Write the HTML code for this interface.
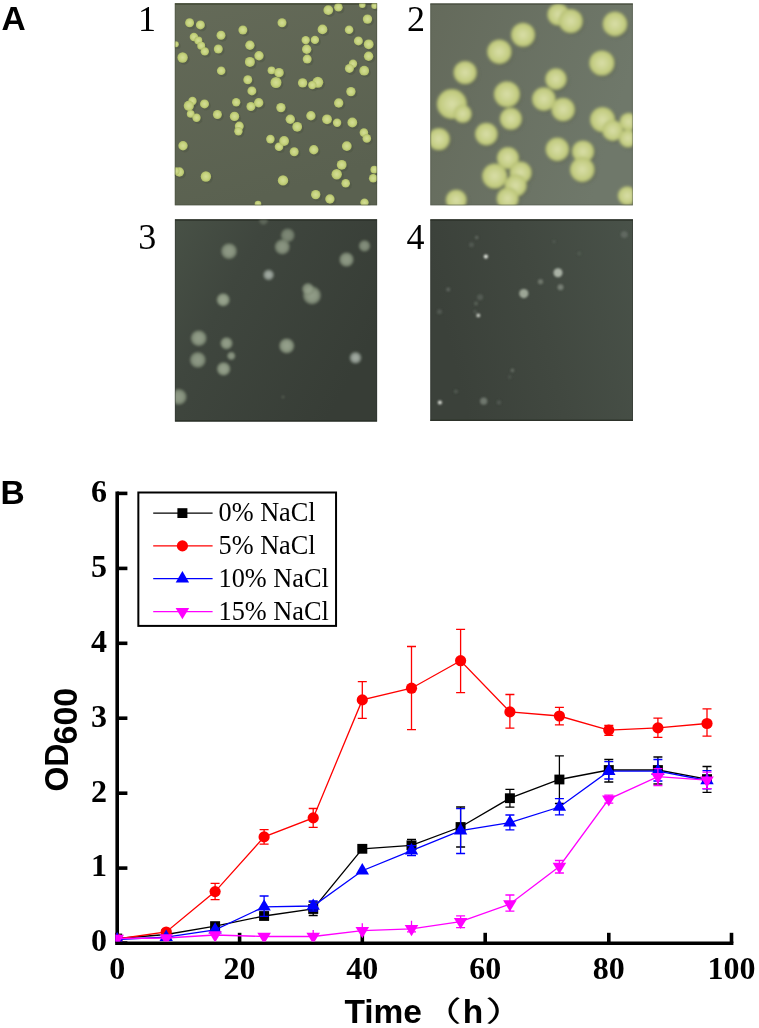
<!DOCTYPE html>
<html lang="en"><head><meta charset="utf-8"><title>Figure</title>
<style>html,body{margin:0;padding:0;background:#fff}svg{display:block}</style></head>
<body>
<svg width="759" height="1028" viewBox="0 0 759 1028">
<rect width="759" height="1028" fill="#fff"/>
<defs>
<linearGradient id="bg1" x1="0" y1="0" x2="0.3" y2="1"><stop offset="0" stop-color="#646a58"/><stop offset="1" stop-color="#5a6150"/></linearGradient>
<linearGradient id="bg2" x1="0" y1="0" x2="1" y2="0.3"><stop offset="0" stop-color="#646a5b"/><stop offset="1" stop-color="#6f786a"/></linearGradient>
<linearGradient id="bg3" x1="0" y1="0" x2="1" y2="0.55"><stop offset="0" stop-color="#485146"/><stop offset="0.35" stop-color="#3f463e"/><stop offset="1" stop-color="#373d36"/></linearGradient><radialGradient id="g3a"><stop offset="0" stop-color="#9ba691"/><stop offset="0.55" stop-color="#909c86"/><stop offset="0.82" stop-color="#7f8b76" stop-opacity="0.8"/><stop offset="1" stop-color="#6a7560" stop-opacity="0"/></radialGradient><radialGradient id="g3b"><stop offset="0" stop-color="#a6aea6"/><stop offset="0.5" stop-color="#959e96"/><stop offset="0.8" stop-color="#808a80" stop-opacity="0.7"/><stop offset="1" stop-color="#6a7468" stop-opacity="0"/></radialGradient>
<linearGradient id="bg4" x1="0" y1="0.25" x2="1" y2="0"><stop offset="0" stop-color="#3b413a"/><stop offset="0.45" stop-color="#414840"/><stop offset="1" stop-color="#495249"/></linearGradient>
<radialGradient id="c1"><stop offset="0" stop-color="#d3dd96"/><stop offset="0.6" stop-color="#c6d37e"/><stop offset="1" stop-color="#b0be68"/></radialGradient>
<radialGradient id="c2"><stop offset="0" stop-color="#d9dea8"/><stop offset="0.5" stop-color="#cbd390"/><stop offset="0.85" stop-color="#c1ca7e"/><stop offset="1" stop-color="#adb86c"/></radialGradient>
<clipPath id="cp1"><rect x="174.8" y="3.2" width="202.3" height="202.1"/></clipPath>
<clipPath id="cp2"><rect x="430.3" y="3.4" width="202.6" height="201.9"/></clipPath>
<clipPath id="cp3"><rect x="174.9" y="219.3" width="202.2" height="202.3"/></clipPath>
<clipPath id="cp4"><rect x="430.3" y="219.3" width="202.7" height="201.7"/></clipPath>
<filter id="b1" x="-20%" y="-20%" width="140%" height="140%"><feGaussianBlur stdDeviation="0.7"/></filter>
<filter id="b2" x="-20%" y="-20%" width="140%" height="140%"><feGaussianBlur stdDeviation="1.5"/></filter>
<filter id="b3" x="-30%" y="-30%" width="160%" height="160%"><feGaussianBlur stdDeviation="1.1"/></filter>
<filter id="b4" x="-50%" y="-50%" width="200%" height="200%"><feGaussianBlur stdDeviation="0.7"/></filter>
<filter id="b5" x="-80%" y="-80%" width="260%" height="260%"><feGaussianBlur stdDeviation="0.95"/></filter>
</defs>
<rect x="174.8" y="3.2" width="202.3" height="202.1" fill="url(#bg1)"/>
<g clip-path="url(#cp1)">
<rect x="174.8" y="3.2" width="202.3" height="1.6" fill="#464c38"/>
<g filter="url(#b1)">
<circle cx="191.2" cy="24.6" r="4.7" fill="#4b5140" opacity="0.45"/>
<circle cx="202.0" cy="26.7" r="4.7" fill="#4b5140" opacity="0.45"/>
<circle cx="222.6" cy="37.0" r="4.7" fill="#4b5140" opacity="0.45"/>
<circle cx="244.5" cy="31.8" r="4.7" fill="#4b5140" opacity="0.45"/>
<circle cx="195.5" cy="38.8" r="4.4" fill="#4b5140" opacity="0.45"/>
<circle cx="199.9" cy="42.4" r="4.2" fill="#4b5140" opacity="0.45"/>
<circle cx="202.8" cy="47.5" r="4.2" fill="#4b5140" opacity="0.45"/>
<circle cx="206.4" cy="53.2" r="4.4" fill="#4b5140" opacity="0.45"/>
<circle cx="219.9" cy="50.8" r="4.7" fill="#4b5140" opacity="0.45"/>
<circle cx="177.4" cy="46.0" r="3.2" fill="#4b5140" opacity="0.45"/>
<circle cx="184.2" cy="59.3" r="5.4" fill="#4b5140" opacity="0.45"/>
<circle cx="251.5" cy="47.0" r="4.9" fill="#4b5140" opacity="0.45"/>
<circle cx="260.6" cy="57.5" r="4.9" fill="#4b5140" opacity="0.45"/>
<circle cx="251.5" cy="63.7" r="5.2" fill="#4b5140" opacity="0.45"/>
<circle cx="222.8" cy="72.5" r="4.5" fill="#4b5140" opacity="0.45"/>
<circle cx="273.1" cy="72.1" r="4.1" fill="#4b5140" opacity="0.45"/>
<circle cx="280.6" cy="74.5" r="5.0" fill="#4b5140" opacity="0.45"/>
<circle cx="277.6" cy="84.3" r="5.7" fill="#4b5140" opacity="0.45"/>
<circle cx="249.4" cy="81.5" r="4.7" fill="#4b5140" opacity="0.45"/>
<circle cx="253.5" cy="92.7" r="4.7" fill="#4b5140" opacity="0.45"/>
<circle cx="237.8" cy="104.1" r="4.4" fill="#4b5140" opacity="0.45"/>
<circle cx="206.1" cy="105.7" r="4.7" fill="#4b5140" opacity="0.45"/>
<circle cx="194.1" cy="102.8" r="4.4" fill="#4b5140" opacity="0.45"/>
<circle cx="190.4" cy="107.6" r="5.3" fill="#4b5140" opacity="0.45"/>
<circle cx="260.3" cy="104.6" r="4.9" fill="#4b5140" opacity="0.45"/>
<circle cx="252.5" cy="108.3" r="4.7" fill="#4b5140" opacity="0.45"/>
<circle cx="283.6" cy="24.6" r="4.7" fill="#4b5140" opacity="0.45"/>
<circle cx="329.9" cy="11.9" r="5.1" fill="#4b5140" opacity="0.45"/>
<circle cx="340.0" cy="9.0" r="4.5" fill="#4b5140" opacity="0.45"/>
<circle cx="363.9" cy="6.6" r="3.5" fill="#4b5140" opacity="0.45"/>
<circle cx="376.2" cy="7.6" r="3.5" fill="#4b5140" opacity="0.45"/>
<circle cx="369.1" cy="20.9" r="4.9" fill="#4b5140" opacity="0.45"/>
<circle cx="324.1" cy="31.2" r="5.1" fill="#4b5140" opacity="0.45"/>
<circle cx="350.7" cy="31.5" r="4.5" fill="#4b5140" opacity="0.45"/>
<circle cx="307.3" cy="41.9" r="4.4" fill="#4b5140" opacity="0.45"/>
<circle cx="316.5" cy="41.7" r="4.4" fill="#4b5140" opacity="0.45"/>
<circle cx="308.3" cy="51.1" r="4.9" fill="#4b5140" opacity="0.45"/>
<circle cx="308.8" cy="60.9" r="4.7" fill="#4b5140" opacity="0.45"/>
<circle cx="360.0" cy="42.7" r="4.7" fill="#4b5140" opacity="0.45"/>
<circle cx="370.3" cy="46.1" r="5.1" fill="#4b5140" opacity="0.45"/>
<circle cx="370.2" cy="58.0" r="4.9" fill="#4b5140" opacity="0.45"/>
<circle cx="354.6" cy="65.6" r="4.4" fill="#4b5140" opacity="0.45"/>
<circle cx="351.0" cy="70.2" r="4.7" fill="#4b5140" opacity="0.45"/>
<circle cx="365.8" cy="72.5" r="5.1" fill="#4b5140" opacity="0.45"/>
<circle cx="304.2" cy="84.7" r="4.9" fill="#4b5140" opacity="0.45"/>
<circle cx="319.4" cy="84.1" r="5.7" fill="#4b5140" opacity="0.45"/>
<circle cx="313.9" cy="86.9" r="4.4" fill="#4b5140" opacity="0.45"/>
<circle cx="352.5" cy="93.4" r="4.9" fill="#4b5140" opacity="0.45"/>
<circle cx="340.3" cy="104.8" r="4.9" fill="#4b5140" opacity="0.45"/>
<circle cx="282.5" cy="109.4" r="4.9" fill="#4b5140" opacity="0.45"/>
<circle cx="192.3" cy="115.6" r="4.1" fill="#4b5140" opacity="0.45"/>
<circle cx="198.1" cy="119.5" r="4.4" fill="#4b5140" opacity="0.45"/>
<circle cx="219.0" cy="116.3" r="4.7" fill="#4b5140" opacity="0.45"/>
<circle cx="236.1" cy="118.2" r="4.9" fill="#4b5140" opacity="0.45"/>
<circle cx="240.9" cy="127.9" r="4.7" fill="#4b5140" opacity="0.45"/>
<circle cx="240.0" cy="133.0" r="4.4" fill="#4b5140" opacity="0.45"/>
<circle cx="272.0" cy="140.9" r="4.5" fill="#4b5140" opacity="0.45"/>
<circle cx="280.6" cy="148.5" r="4.5" fill="#4b5140" opacity="0.45"/>
<circle cx="184.6" cy="147.6" r="4.9" fill="#4b5140" opacity="0.45"/>
<circle cx="181.0" cy="173.8" r="4.9" fill="#4b5140" opacity="0.45"/>
<circle cx="177.4" cy="172.8" r="4.0" fill="#4b5140" opacity="0.45"/>
<circle cx="207.5" cy="178.3" r="5.4" fill="#4b5140" opacity="0.45"/>
<circle cx="259.6" cy="205.9" r="3.5" fill="#4b5140" opacity="0.45"/>
<circle cx="291.9" cy="121.1" r="4.9" fill="#4b5140" opacity="0.45"/>
<circle cx="298.8" cy="128.6" r="5.1" fill="#4b5140" opacity="0.45"/>
<circle cx="312.5" cy="117.5" r="4.9" fill="#4b5140" opacity="0.45"/>
<circle cx="328.6" cy="121.1" r="5.1" fill="#4b5140" opacity="0.45"/>
<circle cx="338.7" cy="124.6" r="4.4" fill="#4b5140" opacity="0.45"/>
<circle cx="353.9" cy="124.3" r="5.1" fill="#4b5140" opacity="0.45"/>
<circle cx="365.5" cy="134.4" r="4.5" fill="#4b5140" opacity="0.45"/>
<circle cx="368.4" cy="140.2" r="4.5" fill="#4b5140" opacity="0.45"/>
<circle cx="285.7" cy="142.8" r="5.1" fill="#4b5140" opacity="0.45"/>
<circle cx="295.8" cy="153.5" r="4.7" fill="#4b5140" opacity="0.45"/>
<circle cx="315.4" cy="151.5" r="4.9" fill="#4b5140" opacity="0.45"/>
<circle cx="348.4" cy="147.9" r="5.1" fill="#4b5140" opacity="0.45"/>
<circle cx="343.3" cy="166.6" r="5.1" fill="#4b5140" opacity="0.45"/>
<circle cx="338.3" cy="176.0" r="5.4" fill="#4b5140" opacity="0.45"/>
<circle cx="347.3" cy="185.1" r="4.5" fill="#4b5140" opacity="0.45"/>
<circle cx="375.9" cy="171.4" r="4.1" fill="#4b5140" opacity="0.45"/>
<circle cx="374.8" cy="180.1" r="4.5" fill="#4b5140" opacity="0.45"/>
<circle cx="284.6" cy="182.2" r="5.4" fill="#4b5140" opacity="0.45"/>
<circle cx="317.3" cy="196.4" r="4.9" fill="#4b5140" opacity="0.45"/>
<circle cx="331.5" cy="200.8" r="4.9" fill="#4b5140" opacity="0.45"/>
<circle cx="366.1" cy="204.4" r="4.4" fill="#4b5140" opacity="0.45"/>
<circle cx="189.6" cy="22.8" r="4.5" fill="url(#c1)"/>
<circle cx="200.4" cy="24.9" r="4.5" fill="url(#c1)"/>
<circle cx="221.0" cy="35.2" r="4.5" fill="url(#c1)"/>
<circle cx="242.9" cy="30.0" r="4.5" fill="url(#c1)"/>
<circle cx="193.9" cy="37.0" r="4.2" fill="url(#c1)"/>
<circle cx="198.3" cy="40.6" r="4.0" fill="url(#c1)"/>
<circle cx="201.2" cy="45.7" r="4.0" fill="url(#c1)"/>
<circle cx="204.8" cy="51.4" r="4.2" fill="url(#c1)"/>
<circle cx="218.3" cy="49.0" r="4.5" fill="url(#c1)"/>
<circle cx="175.8" cy="44.2" r="3.0" fill="url(#c1)"/>
<circle cx="182.6" cy="57.5" r="5.2" fill="url(#c1)"/>
<circle cx="249.9" cy="45.2" r="4.7" fill="url(#c1)"/>
<circle cx="259.0" cy="55.7" r="4.7" fill="url(#c1)"/>
<circle cx="249.9" cy="61.9" r="5.0" fill="url(#c1)"/>
<circle cx="221.2" cy="70.7" r="4.3" fill="url(#c1)"/>
<circle cx="271.5" cy="70.3" r="3.9" fill="url(#c1)"/>
<circle cx="279.0" cy="72.7" r="4.8" fill="url(#c1)"/>
<circle cx="276.0" cy="82.5" r="5.5" fill="url(#c1)"/>
<circle cx="247.8" cy="79.7" r="4.5" fill="url(#c1)"/>
<circle cx="251.9" cy="90.9" r="4.5" fill="url(#c1)"/>
<circle cx="236.2" cy="102.3" r="4.2" fill="url(#c1)"/>
<circle cx="204.5" cy="103.9" r="4.5" fill="url(#c1)"/>
<circle cx="192.5" cy="101.0" r="4.2" fill="url(#c1)"/>
<circle cx="188.8" cy="105.8" r="5.1" fill="url(#c1)"/>
<circle cx="258.7" cy="102.8" r="4.7" fill="url(#c1)"/>
<circle cx="250.9" cy="106.5" r="4.5" fill="url(#c1)"/>
<circle cx="282.0" cy="22.8" r="4.5" fill="url(#c1)"/>
<circle cx="328.3" cy="10.1" r="4.9" fill="url(#c1)"/>
<circle cx="338.4" cy="7.2" r="4.3" fill="url(#c1)"/>
<circle cx="362.3" cy="4.8" r="3.3" fill="url(#c1)"/>
<circle cx="374.6" cy="5.8" r="3.3" fill="url(#c1)"/>
<circle cx="367.5" cy="19.1" r="4.7" fill="url(#c1)"/>
<circle cx="322.5" cy="29.4" r="4.9" fill="url(#c1)"/>
<circle cx="349.1" cy="29.7" r="4.3" fill="url(#c1)"/>
<circle cx="305.7" cy="40.1" r="4.2" fill="url(#c1)"/>
<circle cx="314.9" cy="39.9" r="4.2" fill="url(#c1)"/>
<circle cx="306.7" cy="49.3" r="4.7" fill="url(#c1)"/>
<circle cx="307.2" cy="59.1" r="4.5" fill="url(#c1)"/>
<circle cx="358.4" cy="40.9" r="4.5" fill="url(#c1)"/>
<circle cx="368.7" cy="44.3" r="4.9" fill="url(#c1)"/>
<circle cx="368.6" cy="56.2" r="4.7" fill="url(#c1)"/>
<circle cx="353.0" cy="63.8" r="4.2" fill="url(#c1)"/>
<circle cx="349.4" cy="68.4" r="4.5" fill="url(#c1)"/>
<circle cx="364.2" cy="70.7" r="4.9" fill="url(#c1)"/>
<circle cx="302.6" cy="82.9" r="4.7" fill="url(#c1)"/>
<circle cx="317.8" cy="82.3" r="5.5" fill="url(#c1)"/>
<circle cx="312.3" cy="85.1" r="4.2" fill="url(#c1)"/>
<circle cx="350.9" cy="91.6" r="4.7" fill="url(#c1)"/>
<circle cx="338.7" cy="103.0" r="4.7" fill="url(#c1)"/>
<circle cx="280.9" cy="107.6" r="4.7" fill="url(#c1)"/>
<circle cx="190.7" cy="113.8" r="3.9" fill="url(#c1)"/>
<circle cx="196.5" cy="117.7" r="4.2" fill="url(#c1)"/>
<circle cx="217.4" cy="114.5" r="4.5" fill="url(#c1)"/>
<circle cx="234.5" cy="116.4" r="4.7" fill="url(#c1)"/>
<circle cx="239.3" cy="126.1" r="4.5" fill="url(#c1)"/>
<circle cx="238.4" cy="131.2" r="4.2" fill="url(#c1)"/>
<circle cx="270.4" cy="139.1" r="4.3" fill="url(#c1)"/>
<circle cx="279.0" cy="146.7" r="4.3" fill="url(#c1)"/>
<circle cx="183.0" cy="145.8" r="4.7" fill="url(#c1)"/>
<circle cx="179.4" cy="172.0" r="4.7" fill="url(#c1)"/>
<circle cx="175.8" cy="171.0" r="3.8" fill="url(#c1)"/>
<circle cx="205.9" cy="176.5" r="5.2" fill="url(#c1)"/>
<circle cx="258.0" cy="204.1" r="3.3" fill="url(#c1)"/>
<circle cx="290.3" cy="119.3" r="4.7" fill="url(#c1)"/>
<circle cx="297.2" cy="126.8" r="4.9" fill="url(#c1)"/>
<circle cx="310.9" cy="115.7" r="4.7" fill="url(#c1)"/>
<circle cx="327.0" cy="119.3" r="4.9" fill="url(#c1)"/>
<circle cx="337.1" cy="122.8" r="4.2" fill="url(#c1)"/>
<circle cx="352.3" cy="122.5" r="4.9" fill="url(#c1)"/>
<circle cx="363.9" cy="132.6" r="4.3" fill="url(#c1)"/>
<circle cx="366.8" cy="138.4" r="4.3" fill="url(#c1)"/>
<circle cx="284.1" cy="141.0" r="4.9" fill="url(#c1)"/>
<circle cx="294.2" cy="151.7" r="4.5" fill="url(#c1)"/>
<circle cx="313.8" cy="149.7" r="4.7" fill="url(#c1)"/>
<circle cx="346.8" cy="146.1" r="4.9" fill="url(#c1)"/>
<circle cx="341.7" cy="164.8" r="4.9" fill="url(#c1)"/>
<circle cx="336.7" cy="174.2" r="5.2" fill="url(#c1)"/>
<circle cx="345.7" cy="183.3" r="4.3" fill="url(#c1)"/>
<circle cx="374.3" cy="169.6" r="3.9" fill="url(#c1)"/>
<circle cx="373.2" cy="178.3" r="4.3" fill="url(#c1)"/>
<circle cx="283.0" cy="180.4" r="5.2" fill="url(#c1)"/>
<circle cx="315.7" cy="194.6" r="4.7" fill="url(#c1)"/>
<circle cx="329.9" cy="199.0" r="4.7" fill="url(#c1)"/>
<circle cx="364.5" cy="202.6" r="4.2" fill="url(#c1)"/>
</g></g>
<rect x="430.3" y="3.4" width="202.6" height="201.9" fill="url(#bg2)"/>
<g clip-path="url(#cp2)">
<rect x="430.3" y="3.4" width="202.6" height="1.4" fill="#4c5242"/>
<g filter="url(#b2)">
<circle cx="524.5" cy="36.3" r="12.8" fill="#59604e" opacity="0.45"/>
<circle cx="500.8" cy="53.2" r="13.0" fill="#59604e" opacity="0.45"/>
<circle cx="466.6" cy="74.0" r="12.4" fill="#59604e" opacity="0.45"/>
<circle cx="508.4" cy="95.7" r="13.8" fill="#59604e" opacity="0.45"/>
<circle cx="453.3" cy="105.5" r="15.8" fill="#59604e" opacity="0.45"/>
<circle cx="464.2" cy="115.3" r="9.8" fill="#59604e" opacity="0.45"/>
<circle cx="559.8" cy="16.0" r="11.8" fill="#59604e" opacity="0.45"/>
<circle cx="572.2" cy="22.5" r="12.8" fill="#59604e" opacity="0.45"/>
<circle cx="616.4" cy="25.4" r="13.1" fill="#59604e" opacity="0.45"/>
<circle cx="603.3" cy="64.5" r="13.4" fill="#59604e" opacity="0.45"/>
<circle cx="557.4" cy="80.5" r="11.5" fill="#59604e" opacity="0.45"/>
<circle cx="545.3" cy="100.5" r="12.6" fill="#59604e" opacity="0.45"/>
<circle cx="564.6" cy="110.9" r="12.5" fill="#59604e" opacity="0.45"/>
<circle cx="512.3" cy="120.3" r="11.8" fill="#59604e" opacity="0.45"/>
<circle cx="487.8" cy="135.6" r="12.1" fill="#59604e" opacity="0.45"/>
<circle cx="440.3" cy="140.6" r="11.8" fill="#59604e" opacity="0.45"/>
<circle cx="509.4" cy="159.5" r="11.8" fill="#59604e" opacity="0.45"/>
<circle cx="496.1" cy="177.6" r="13.3" fill="#59604e" opacity="0.45"/>
<circle cx="522.1" cy="174.0" r="11.8" fill="#59604e" opacity="0.45"/>
<circle cx="517.1" cy="187.0" r="11.8" fill="#59604e" opacity="0.45"/>
<circle cx="509.1" cy="200.1" r="11.8" fill="#59604e" opacity="0.45"/>
<circle cx="457.7" cy="201.5" r="11.3" fill="#59604e" opacity="0.45"/>
<circle cx="604.0" cy="121.1" r="13.3" fill="#59604e" opacity="0.45"/>
<circle cx="614.2" cy="131.9" r="11.3" fill="#59604e" opacity="0.45"/>
<circle cx="630.1" cy="123.2" r="9.8" fill="#59604e" opacity="0.45"/>
<circle cx="629.4" cy="139.9" r="9.8" fill="#59604e" opacity="0.45"/>
<circle cx="558.8" cy="150.8" r="12.5" fill="#59604e" opacity="0.45"/>
<circle cx="584.5" cy="152.9" r="11.8" fill="#59604e" opacity="0.45"/>
<circle cx="583.7" cy="171.1" r="13.1" fill="#59604e" opacity="0.45"/>
<circle cx="628.7" cy="197.2" r="10.3" fill="#59604e" opacity="0.45"/>
<circle cx="523.0" cy="34.8" r="12.0" fill="url(#c2)"/>
<circle cx="499.3" cy="51.7" r="12.2" fill="url(#c2)"/>
<circle cx="465.1" cy="72.5" r="11.6" fill="url(#c2)"/>
<circle cx="506.9" cy="94.2" r="13.0" fill="url(#c2)"/>
<circle cx="451.8" cy="104.0" r="15.0" fill="url(#c2)"/>
<circle cx="462.7" cy="113.8" r="9.0" fill="url(#c2)"/>
<circle cx="558.3" cy="14.5" r="11.0" fill="url(#c2)"/>
<circle cx="570.7" cy="21.0" r="12.0" fill="url(#c2)"/>
<circle cx="614.9" cy="23.9" r="12.3" fill="url(#c2)"/>
<circle cx="601.8" cy="63.0" r="12.6" fill="url(#c2)"/>
<circle cx="555.9" cy="79.0" r="10.7" fill="url(#c2)"/>
<circle cx="543.8" cy="99.0" r="11.8" fill="url(#c2)"/>
<circle cx="563.1" cy="109.4" r="11.7" fill="url(#c2)"/>
<circle cx="510.8" cy="118.8" r="11.0" fill="url(#c2)"/>
<circle cx="486.3" cy="134.1" r="11.3" fill="url(#c2)"/>
<circle cx="438.8" cy="139.1" r="11.0" fill="url(#c2)"/>
<circle cx="507.9" cy="158.0" r="11.0" fill="url(#c2)"/>
<circle cx="494.6" cy="176.1" r="12.5" fill="url(#c2)"/>
<circle cx="520.6" cy="172.5" r="11.0" fill="url(#c2)"/>
<circle cx="515.6" cy="185.5" r="11.0" fill="url(#c2)"/>
<circle cx="507.6" cy="198.6" r="11.0" fill="url(#c2)"/>
<circle cx="456.2" cy="200.0" r="10.5" fill="url(#c2)"/>
<circle cx="602.5" cy="119.6" r="12.5" fill="url(#c2)"/>
<circle cx="612.7" cy="130.4" r="10.5" fill="url(#c2)"/>
<circle cx="628.6" cy="121.7" r="9.0" fill="url(#c2)"/>
<circle cx="627.9" cy="138.4" r="9.0" fill="url(#c2)"/>
<circle cx="557.3" cy="149.3" r="11.7" fill="url(#c2)"/>
<circle cx="583.0" cy="151.4" r="11.0" fill="url(#c2)"/>
<circle cx="582.2" cy="169.6" r="12.3" fill="url(#c2)"/>
<circle cx="627.2" cy="195.7" r="9.5" fill="url(#c2)"/>
</g></g>
<rect x="174.9" y="219.3" width="202.2" height="202.3" fill="url(#bg3)"/>
<g clip-path="url(#cp3)">
<rect x="174.9" y="219.3" width="202.2" height="1.4" fill="#2c3228"/>
<rect x="174.9" y="420.2" width="202.2" height="1.4" fill="#2c3228"/>
<g filter="url(#b3)">
<circle cx="229.0" cy="251.2" r="8.8" fill="url(#g3a)" opacity="0.88"/>
<circle cx="268.6" cy="274.9" r="6.2" fill="url(#g3b)" opacity="1.00"/>
<circle cx="223.2" cy="299.8" r="7.3" fill="url(#g3a)" opacity="1.00"/>
<circle cx="263.5" cy="220.5" r="5.0" fill="url(#g3a)" opacity="0.36"/>
<circle cx="287.7" cy="235.3" r="7.7" fill="url(#g3a)" opacity="0.70"/>
<circle cx="282.3" cy="246.9" r="8.4" fill="url(#g3a)" opacity="0.84"/>
<circle cx="364.5" cy="245.9" r="6.4" fill="url(#g3a)" opacity="0.78"/>
<circle cx="346.5" cy="259.6" r="8.0" fill="url(#g3a)" opacity="0.88"/>
<circle cx="312.0" cy="295.4" r="9.9" fill="url(#g3a)" opacity="0.92"/>
<circle cx="308.0" cy="289.0" r="6.6" fill="url(#g3a)" opacity="0.85"/>
<circle cx="198.7" cy="338.2" r="8.8" fill="url(#g3a)" opacity="0.92"/>
<circle cx="197.8" cy="359.9" r="8.8" fill="url(#g3a)" opacity="0.88"/>
<circle cx="226.5" cy="343.3" r="6.8" fill="url(#g3a)" opacity="0.93"/>
<circle cx="231.3" cy="355.9" r="4.6" fill="url(#g3a)" opacity="0.84"/>
<circle cx="223.6" cy="368.9" r="7.5" fill="url(#g3a)" opacity="0.96"/>
<circle cx="178.7" cy="396.9" r="8.8" fill="url(#g3a)" opacity="0.89"/>
<circle cx="286.7" cy="345.9" r="8.4" fill="url(#g3a)" opacity="0.96"/>
<circle cx="355.5" cy="357.8" r="6.8" fill="url(#g3b)" opacity="1.00"/>
<circle cx="283.0" cy="397.0" r="1.8" fill="url(#g3a)" opacity="0.32"/>
</g></g>
<rect x="430.3" y="219.3" width="202.7" height="201.7" fill="url(#bg4)"/>
<g clip-path="url(#cp4)">
<rect x="430.3" y="219.3" width="202.7" height="1.4" fill="#2c3228"/>
<rect x="430.3" y="419.6" width="202.7" height="1.4" fill="#2c3228"/>
<g filter="url(#b5)">
<circle cx="485.9" cy="256.6" r="2.1" fill="#e4e8e0" opacity="1.0"/>
<circle cx="523.8" cy="293.6" r="4.6" fill="#9ca696" opacity="1.0"/>
<circle cx="478.3" cy="315.4" r="1.9" fill="#ccd0c8" opacity="1.0"/>
<circle cx="476.7" cy="237.5" r="1.8" fill="#6a7268" opacity="0.75"/>
<circle cx="471.4" cy="244.7" r="2.5" fill="#586058" opacity="0.75"/>
<circle cx="448.2" cy="289.6" r="2.0" fill="#687068" opacity="0.75"/>
<circle cx="480.1" cy="297.3" r="3.0" fill="#5c645c" opacity="0.75"/>
<circle cx="476.0" cy="303.4" r="2.0" fill="#626a60" opacity="0.75"/>
<circle cx="439.5" cy="311.8" r="2.5" fill="#5a625a" opacity="0.75"/>
<circle cx="475.0" cy="311.4" r="1.5" fill="#5c645c" opacity="0.75"/>
<circle cx="558.0" cy="272.7" r="4.5" fill="#aab2a6" opacity="1.0"/>
<circle cx="540.5" cy="281.7" r="2.6" fill="#7e867a" opacity="0.75"/>
<circle cx="560.5" cy="287.2" r="3.0" fill="#889086" opacity="0.75"/>
<circle cx="624.3" cy="234.6" r="3.5" fill="#687068" opacity="0.75"/>
<circle cx="579.3" cy="253.4" r="2.0" fill="#566056" opacity="0.75"/>
<circle cx="554.0" cy="241.5" r="1.5" fill="#5a625a" opacity="0.75"/>
<circle cx="439.9" cy="402.4" r="2.0" fill="#dce0d8" opacity="1.0"/>
<circle cx="483.7" cy="401.2" r="3.6" fill="#80887e" opacity="0.75"/>
<circle cx="498.9" cy="402.4" r="2.2" fill="#586058" opacity="0.75"/>
<circle cx="455.9" cy="391.4" r="2.0" fill="#5a625a" opacity="0.75"/>
<circle cx="512.4" cy="370.4" r="1.8" fill="#727a70" opacity="0.75"/>
<circle cx="509.8" cy="377.0" r="2.0" fill="#505850" opacity="0.75"/>
</g></g>
<rect x="175.3" y="3.7" width="201.3" height="201.1" fill="none" stroke="#474d3b" stroke-width="1" opacity="0.45"/>
<rect x="430.8" y="3.9" width="201.6" height="200.9" fill="none" stroke="#50564a" stroke-width="1" opacity="0.45"/>
<rect x="175.4" y="219.8" width="201.2" height="201.3" fill="none" stroke="#2e342c" stroke-width="1" opacity="0.45"/>
<rect x="430.8" y="219.8" width="201.7" height="200.7" fill="none" stroke="#2e342d" stroke-width="1" opacity="0.45"/>
<text x="1.6" y="29.9" font-family='"Liberation Sans", Arial, sans-serif' font-weight="bold" font-size="33.5" fill="#000">A</text>
<text x="0.4" y="504" font-family='"Liberation Sans", Arial, sans-serif' font-weight="bold" font-size="33.5" fill="#000">B</text>
<text x="138.0" y="31.1" font-family='"Liberation Serif", "Times New Roman", serif' font-size="36" fill="#000">1</text>
<text x="407" y="31.1" font-family='"Liberation Serif", "Times New Roman", serif' font-size="36" fill="#000">2</text>
<text x="138.2" y="248.6" font-family='"Liberation Serif", "Times New Roman", serif' font-size="36" fill="#000">3</text>
<text x="406.6" y="248.6" font-family='"Liberation Serif", "Times New Roman", serif' font-size="36" fill="#000">4</text>
<g id="chart">
<path d="M117.2 491.6V945.0" stroke="#000" stroke-width="3.6" fill="none"/>
<path d="M115.4 943.2H733.4" stroke="#000" stroke-width="3.6" fill="none"/>
<path d="M117 943.1H127.4" stroke="#000" stroke-width="3.6"/>
<path d="M117 868.1H127.4" stroke="#000" stroke-width="3.6"/>
<path d="M117 793.2H127.4" stroke="#000" stroke-width="3.6"/>
<path d="M117 718.2H127.4" stroke="#000" stroke-width="3.6"/>
<path d="M117 643.3H127.4" stroke="#000" stroke-width="3.6"/>
<path d="M117 568.4H127.4" stroke="#000" stroke-width="3.6"/>
<path d="M117 493.4H127.4" stroke="#000" stroke-width="3.6"/>
<path d="M117.2 943V932.8" stroke="#000" stroke-width="3.6"/>
<path d="M239.6 943V932.8" stroke="#000" stroke-width="3.6"/>
<path d="M362.3 943V932.8" stroke="#000" stroke-width="3.6"/>
<path d="M485.2 943V932.8" stroke="#000" stroke-width="3.6"/>
<path d="M608.8 943V932.8" stroke="#000" stroke-width="3.6"/>
<path d="M731.5 943V932.8" stroke="#000" stroke-width="3.6"/>
<clipPath id="plot"><rect x="115.4" y="470" width="640" height="471.5"/></clipPath><g clip-path="url(#plot)">
<polyline points="117.2,938.5 166.2,934.5 215.1,926.1 264.1,916.0 313.2,909.0 362.3,848.8 411.5,845.3 460.6,827.0 509.9,798.2 559.4,779.5 608.8,770.0 657.9,770.0 707.0,779.1" fill="none" stroke="#000000" stroke-width="1.3"/>
<path d="M313.2 902.0V915.5M308.7 902.0h9M308.7 915.5h9" stroke="#000000" stroke-width="1.3" fill="none"/>
<path d="M411.5 839.3V851.3M407.0 839.3h9M407.0 851.3h9" stroke="#000000" stroke-width="1.3" fill="none"/>
<path d="M460.6 807.0V847.0M456.1 807.0h9M456.1 847.0h9" stroke="#000000" stroke-width="1.3" fill="none"/>
<path d="M509.9 789.3V807.1M505.4 789.3h9M505.4 807.1h9" stroke="#000000" stroke-width="1.3" fill="none"/>
<path d="M559.4 755.8V803.5M554.9 755.8h9M554.9 803.5h9" stroke="#000000" stroke-width="1.3" fill="none"/>
<path d="M608.8 759.5V782.0M604.3 759.5h9M604.3 782.0h9" stroke="#000000" stroke-width="1.3" fill="none"/>
<path d="M657.9 757.0V784.0M653.4 757.0h9M653.4 784.0h9" stroke="#000000" stroke-width="1.3" fill="none"/>
<path d="M707.0 766.5V792.4M702.5 766.5h9M702.5 792.4h9" stroke="#000000" stroke-width="1.3" fill="none"/>
<rect x="112.2" y="933.6" width="10" height="9.8" fill="#000000"/>
<rect x="161.2" y="929.6" width="10" height="9.8" fill="#000000"/>
<rect x="210.1" y="921.2" width="10" height="9.8" fill="#000000"/>
<rect x="259.1" y="911.1" width="10" height="9.8" fill="#000000"/>
<rect x="308.2" y="904.1" width="10" height="9.8" fill="#000000"/>
<rect x="357.3" y="843.9" width="10" height="9.8" fill="#000000"/>
<rect x="406.5" y="840.4" width="10" height="9.8" fill="#000000"/>
<rect x="455.6" y="822.1" width="10" height="9.8" fill="#000000"/>
<rect x="504.9" y="793.3" width="10" height="9.8" fill="#000000"/>
<rect x="554.4" y="774.6" width="10" height="9.8" fill="#000000"/>
<rect x="603.8" y="765.1" width="10" height="9.8" fill="#000000"/>
<rect x="652.9" y="765.1" width="10" height="9.8" fill="#000000"/>
<rect x="702.0" y="774.2" width="10" height="9.8" fill="#000000"/>
<polyline points="117.2,939.0 166.2,932.0 215.1,891.6 264.1,836.9 313.2,817.9 362.3,699.9 411.5,688.2 460.6,660.7 509.9,711.9 559.4,716.0 608.8,730.1 657.9,727.9 707.0,723.5" fill="none" stroke="#ff0000" stroke-width="1.3"/>
<path d="M215.1 883.4V899.6M210.6 883.4h9M210.6 899.6h9" stroke="#ff0000" stroke-width="1.3" fill="none"/>
<path d="M264.1 829.6V844.2M259.6 829.6h9M259.6 844.2h9" stroke="#ff0000" stroke-width="1.3" fill="none"/>
<path d="M313.2 808.5V827.4M308.7 808.5h9M308.7 827.4h9" stroke="#ff0000" stroke-width="1.3" fill="none"/>
<path d="M362.3 681.6V718.3M357.8 681.6h9M357.8 718.3h9" stroke="#ff0000" stroke-width="1.3" fill="none"/>
<path d="M411.5 646.5V729.6M407.0 646.5h9M407.0 729.6h9" stroke="#ff0000" stroke-width="1.3" fill="none"/>
<path d="M460.6 629.4V692.6M456.1 629.4h9M456.1 692.6h9" stroke="#ff0000" stroke-width="1.3" fill="none"/>
<path d="M509.9 694.5V728.1M505.4 694.5h9M505.4 728.1h9" stroke="#ff0000" stroke-width="1.3" fill="none"/>
<path d="M559.4 707.3V724.8M554.9 707.3h9M554.9 724.8h9" stroke="#ff0000" stroke-width="1.3" fill="none"/>
<path d="M608.8 725.3V735.4M604.3 725.3h9M604.3 735.4h9" stroke="#ff0000" stroke-width="1.3" fill="none"/>
<path d="M657.9 718.1V737.4M653.4 718.1h9M653.4 737.4h9" stroke="#ff0000" stroke-width="1.3" fill="none"/>
<path d="M707.0 708.9V736.1M702.5 708.9h9M702.5 736.1h9" stroke="#ff0000" stroke-width="1.3" fill="none"/>
<circle cx="117.2" cy="939.0" r="5.6" fill="#ff0000"/>
<circle cx="166.2" cy="932.0" r="5.6" fill="#ff0000"/>
<circle cx="215.1" cy="891.6" r="5.6" fill="#ff0000"/>
<circle cx="264.1" cy="836.9" r="5.6" fill="#ff0000"/>
<circle cx="313.2" cy="817.9" r="5.6" fill="#ff0000"/>
<circle cx="362.3" cy="699.9" r="5.6" fill="#ff0000"/>
<circle cx="411.5" cy="688.2" r="5.6" fill="#ff0000"/>
<circle cx="460.6" cy="660.7" r="5.6" fill="#ff0000"/>
<circle cx="509.9" cy="711.9" r="5.6" fill="#ff0000"/>
<circle cx="559.4" cy="716.0" r="5.6" fill="#ff0000"/>
<circle cx="608.8" cy="730.1" r="5.6" fill="#ff0000"/>
<circle cx="657.9" cy="727.9" r="5.6" fill="#ff0000"/>
<circle cx="707.0" cy="723.5" r="5.6" fill="#ff0000"/>
<polyline points="117.2,939.5 166.2,937.2 215.1,929.8 264.1,906.8 313.2,906.0 362.3,870.7 411.5,850.6 460.6,830.6 509.9,822.6 559.4,807.0 608.8,771.2 657.9,771.2 707.0,780.5" fill="none" stroke="#0000ff" stroke-width="1.3"/>
<path d="M264.1 896.0V916.3M259.6 896.0h9M259.6 916.3h9" stroke="#0000ff" stroke-width="1.3" fill="none"/>
<path d="M313.2 901.0V911.0M308.7 901.0h9M308.7 911.0h9" stroke="#0000ff" stroke-width="1.3" fill="none"/>
<path d="M411.5 845.6V855.6M407.0 845.6h9M407.0 855.6h9" stroke="#0000ff" stroke-width="1.3" fill="none"/>
<path d="M460.6 808.7V853.5M456.1 808.7h9M456.1 853.5h9" stroke="#0000ff" stroke-width="1.3" fill="none"/>
<path d="M509.9 815.0V829.9M505.4 815.0h9M505.4 829.9h9" stroke="#0000ff" stroke-width="1.3" fill="none"/>
<path d="M559.4 798.6V814.9M554.9 798.6h9M554.9 814.9h9" stroke="#0000ff" stroke-width="1.3" fill="none"/>
<path d="M608.8 761.7V779.0M604.3 761.7h9M604.3 779.0h9" stroke="#0000ff" stroke-width="1.3" fill="none"/>
<path d="M657.9 759.5V781.0M653.4 759.5h9M653.4 781.0h9" stroke="#0000ff" stroke-width="1.3" fill="none"/>
<path d="M707.0 770.6V788.9M702.5 770.6h9M702.5 788.9h9" stroke="#0000ff" stroke-width="1.3" fill="none"/>
<path d="M117.2 931.9L123.9 943.3H110.5Z" fill="#0000ff"/>
<path d="M166.2 929.6L172.9 941.0H159.5Z" fill="#0000ff"/>
<path d="M215.1 922.2L221.8 933.6H208.4Z" fill="#0000ff"/>
<path d="M264.1 899.2L270.8 910.6H257.4Z" fill="#0000ff"/>
<path d="M313.2 898.4L319.9 909.8H306.5Z" fill="#0000ff"/>
<path d="M362.3 863.1L369.0 874.5H355.6Z" fill="#0000ff"/>
<path d="M411.5 843.0L418.2 854.4H404.8Z" fill="#0000ff"/>
<path d="M460.6 823.0L467.3 834.4H453.9Z" fill="#0000ff"/>
<path d="M509.9 815.0L516.6 826.4H503.2Z" fill="#0000ff"/>
<path d="M559.4 799.4L566.1 810.8H552.7Z" fill="#0000ff"/>
<path d="M608.8 763.6L615.5 775.0H602.1Z" fill="#0000ff"/>
<path d="M657.9 763.6L664.6 775.0H651.2Z" fill="#0000ff"/>
<path d="M707.0 772.9L713.7 784.3H700.3Z" fill="#0000ff"/>
<path d="M313.2 930V936M362.3 923.2V930M411.5 920.8V928" stroke="#ff00ff" stroke-width="1.3"/>
<polyline points="117.2,938.5 166.2,938.0 215.1,935.0 264.1,936.5 313.2,936.5 362.3,930.7 411.5,928.8 460.6,921.6 509.9,904.0 559.4,866.5 608.8,799.1 657.9,776.6 707.0,780.1" fill="none" stroke="#ff00ff" stroke-width="1.3"/>
<path d="M411.5 925.8V931.8M407.0 925.8h9M407.0 931.8h9" stroke="#ff00ff" stroke-width="1.3" fill="none"/>
<path d="M460.6 915.9V927.7M456.1 915.9h9M456.1 927.7h9" stroke="#ff00ff" stroke-width="1.3" fill="none"/>
<path d="M509.9 895.0V911.1M505.4 895.0h9M505.4 911.1h9" stroke="#ff00ff" stroke-width="1.3" fill="none"/>
<path d="M559.4 860.5V873.0M554.9 860.5h9M554.9 873.0h9" stroke="#ff00ff" stroke-width="1.3" fill="none"/>
<path d="M608.8 795.1V803.1M604.3 795.1h9M604.3 803.1h9" stroke="#ff00ff" stroke-width="1.3" fill="none"/>
<path d="M657.9 768.6V785.5M653.4 768.6h9M653.4 785.5h9" stroke="#ff00ff" stroke-width="1.3" fill="none"/>
<path d="M707.0 772.1V788.6M702.5 772.1h9M702.5 788.6h9" stroke="#ff00ff" stroke-width="1.3" fill="none"/>
<path d="M117.2 946.0L124.0 934.8H110.4Z" fill="#ff00ff"/>
<path d="M166.2 945.5L173.0 934.3H159.4Z" fill="#ff00ff"/>
<path d="M215.1 942.5L221.9 931.3H208.3Z" fill="#ff00ff"/>
<path d="M264.1 944.0L270.9 932.8H257.3Z" fill="#ff00ff"/>
<path d="M313.2 944.0L320.0 932.8H306.4Z" fill="#ff00ff"/>
<path d="M362.3 938.2L369.1 927.0H355.5Z" fill="#ff00ff"/>
<path d="M411.5 936.3L418.3 925.1H404.7Z" fill="#ff00ff"/>
<path d="M460.6 929.1L467.4 917.9H453.8Z" fill="#ff00ff"/>
<path d="M509.9 911.5L516.7 900.3H503.1Z" fill="#ff00ff"/>
<path d="M559.4 874.0L566.2 862.8H552.6Z" fill="#ff00ff"/>
<path d="M608.8 806.6L615.6 795.4H602.0Z" fill="#ff00ff"/>
<path d="M657.9 784.1L664.7 772.9H651.1Z" fill="#ff00ff"/>
<path d="M707.0 787.6L713.8 776.4H700.2Z" fill="#ff00ff"/>
</g>
<text x="107" y="951.4" text-anchor="end" font-family='"Liberation Serif", "Times New Roman", serif' font-weight="bold" font-size="32" fill="#000">0</text>
<text x="107" y="876.4" text-anchor="end" font-family='"Liberation Serif", "Times New Roman", serif' font-weight="bold" font-size="32" fill="#000">1</text>
<text x="107" y="801.5" text-anchor="end" font-family='"Liberation Serif", "Times New Roman", serif' font-weight="bold" font-size="32" fill="#000">2</text>
<text x="107" y="726.5" text-anchor="end" font-family='"Liberation Serif", "Times New Roman", serif' font-weight="bold" font-size="32" fill="#000">3</text>
<text x="107" y="651.6" text-anchor="end" font-family='"Liberation Serif", "Times New Roman", serif' font-weight="bold" font-size="32" fill="#000">4</text>
<text x="107" y="576.6" text-anchor="end" font-family='"Liberation Serif", "Times New Roman", serif' font-weight="bold" font-size="32" fill="#000">5</text>
<text x="107" y="501.7" text-anchor="end" font-family='"Liberation Serif", "Times New Roman", serif' font-weight="bold" font-size="32" fill="#000">6</text>
<text x="117.2" y="978.9" text-anchor="middle" font-family='"Liberation Serif", "Times New Roman", serif' font-weight="bold" font-size="32" fill="#000">0</text>
<text x="239.6" y="978.9" text-anchor="middle" font-family='"Liberation Serif", "Times New Roman", serif' font-weight="bold" font-size="32" fill="#000">20</text>
<text x="362.3" y="978.9" text-anchor="middle" font-family='"Liberation Serif", "Times New Roman", serif' font-weight="bold" font-size="32" fill="#000">40</text>
<text x="485.2" y="978.9" text-anchor="middle" font-family='"Liberation Serif", "Times New Roman", serif' font-weight="bold" font-size="32" fill="#000">60</text>
<text x="608.8" y="978.9" text-anchor="middle" font-family='"Liberation Serif", "Times New Roman", serif' font-weight="bold" font-size="32" fill="#000">80</text>
<text x="731.5" y="978.9" text-anchor="middle" font-family='"Liberation Serif", "Times New Roman", serif' font-weight="bold" font-size="32" fill="#000">100</text>
<text transform="translate(67.9 791.6) rotate(-90) scale(0.957 1)" font-family='"Liberation Sans", Arial, sans-serif' font-weight="bold" font-size="33.5" fill="#000">OD</text>
<text transform="translate(77.3 744.5) rotate(-90)" font-family='"Liberation Sans", Arial, sans-serif' font-weight="bold" font-size="34" fill="#000">600</text>
<text x="344.4" y="1022.7" font-family='"Liberation Sans", Arial, sans-serif' font-weight="bold" font-size="33.5" fill="#000">Time</text>
<text transform="translate(418.6 1021.8) scale(1.6 1.04)" font-family='"Liberation Sans", "Noto Sans CJK SC", sans-serif' font-weight="400" font-size="27" fill="#000">（</text>
<text x="462.8" y="1022.7" font-family='"Liberation Sans", Arial, sans-serif' font-weight="bold" font-size="33.5" fill="#000">h</text>
<text transform="translate(485.2 1021.8) scale(1.65 1.04)" font-family='"Liberation Sans", "Noto Sans CJK SC", sans-serif' font-weight="400" font-size="27" fill="#000">）</text>
<rect x="138.35" y="492.5" width="197.7" height="133.4" fill="#fff" stroke="#000" stroke-width="2"/>
<path d="M153.2 513.1H212.6" stroke="#000000" stroke-width="1.3"/>
<rect x="177.4" y="508.2" width="10" height="9.8" fill="#000000"/>
<text x="218.5" y="521.2" font-family='"Liberation Serif", "Times New Roman", serif' font-size="26.3" fill="#000">0% NaCl</text>
<path d="M153.2 545.9H212.6" stroke="#ff0000" stroke-width="1.3"/>
<circle cx="182.4" cy="545.9" r="5.6" fill="#ff0000"/>
<text x="218.5" y="554.0" font-family='"Liberation Serif", "Times New Roman", serif' font-size="26.3" fill="#000">5% NaCl</text>
<path d="M153.2 578.6H212.6" stroke="#0000ff" stroke-width="1.3"/>
<path d="M182.4 571.0L189.1 582.4H175.7Z" fill="#0000ff"/>
<text x="218.5" y="586.7" font-family='"Liberation Serif", "Times New Roman", serif' font-size="26.3" fill="#000">10% NaCl</text>
<path d="M153.2 611.7H212.6" stroke="#ff00ff" stroke-width="1.3"/>
<path d="M182.4 619.2L189.2 608.0H175.6Z" fill="#ff00ff"/>
<text x="218.5" y="619.8" font-family='"Liberation Serif", "Times New Roman", serif' font-size="26.3" fill="#000">15% NaCl</text>
</g>
</svg>
</body></html>
